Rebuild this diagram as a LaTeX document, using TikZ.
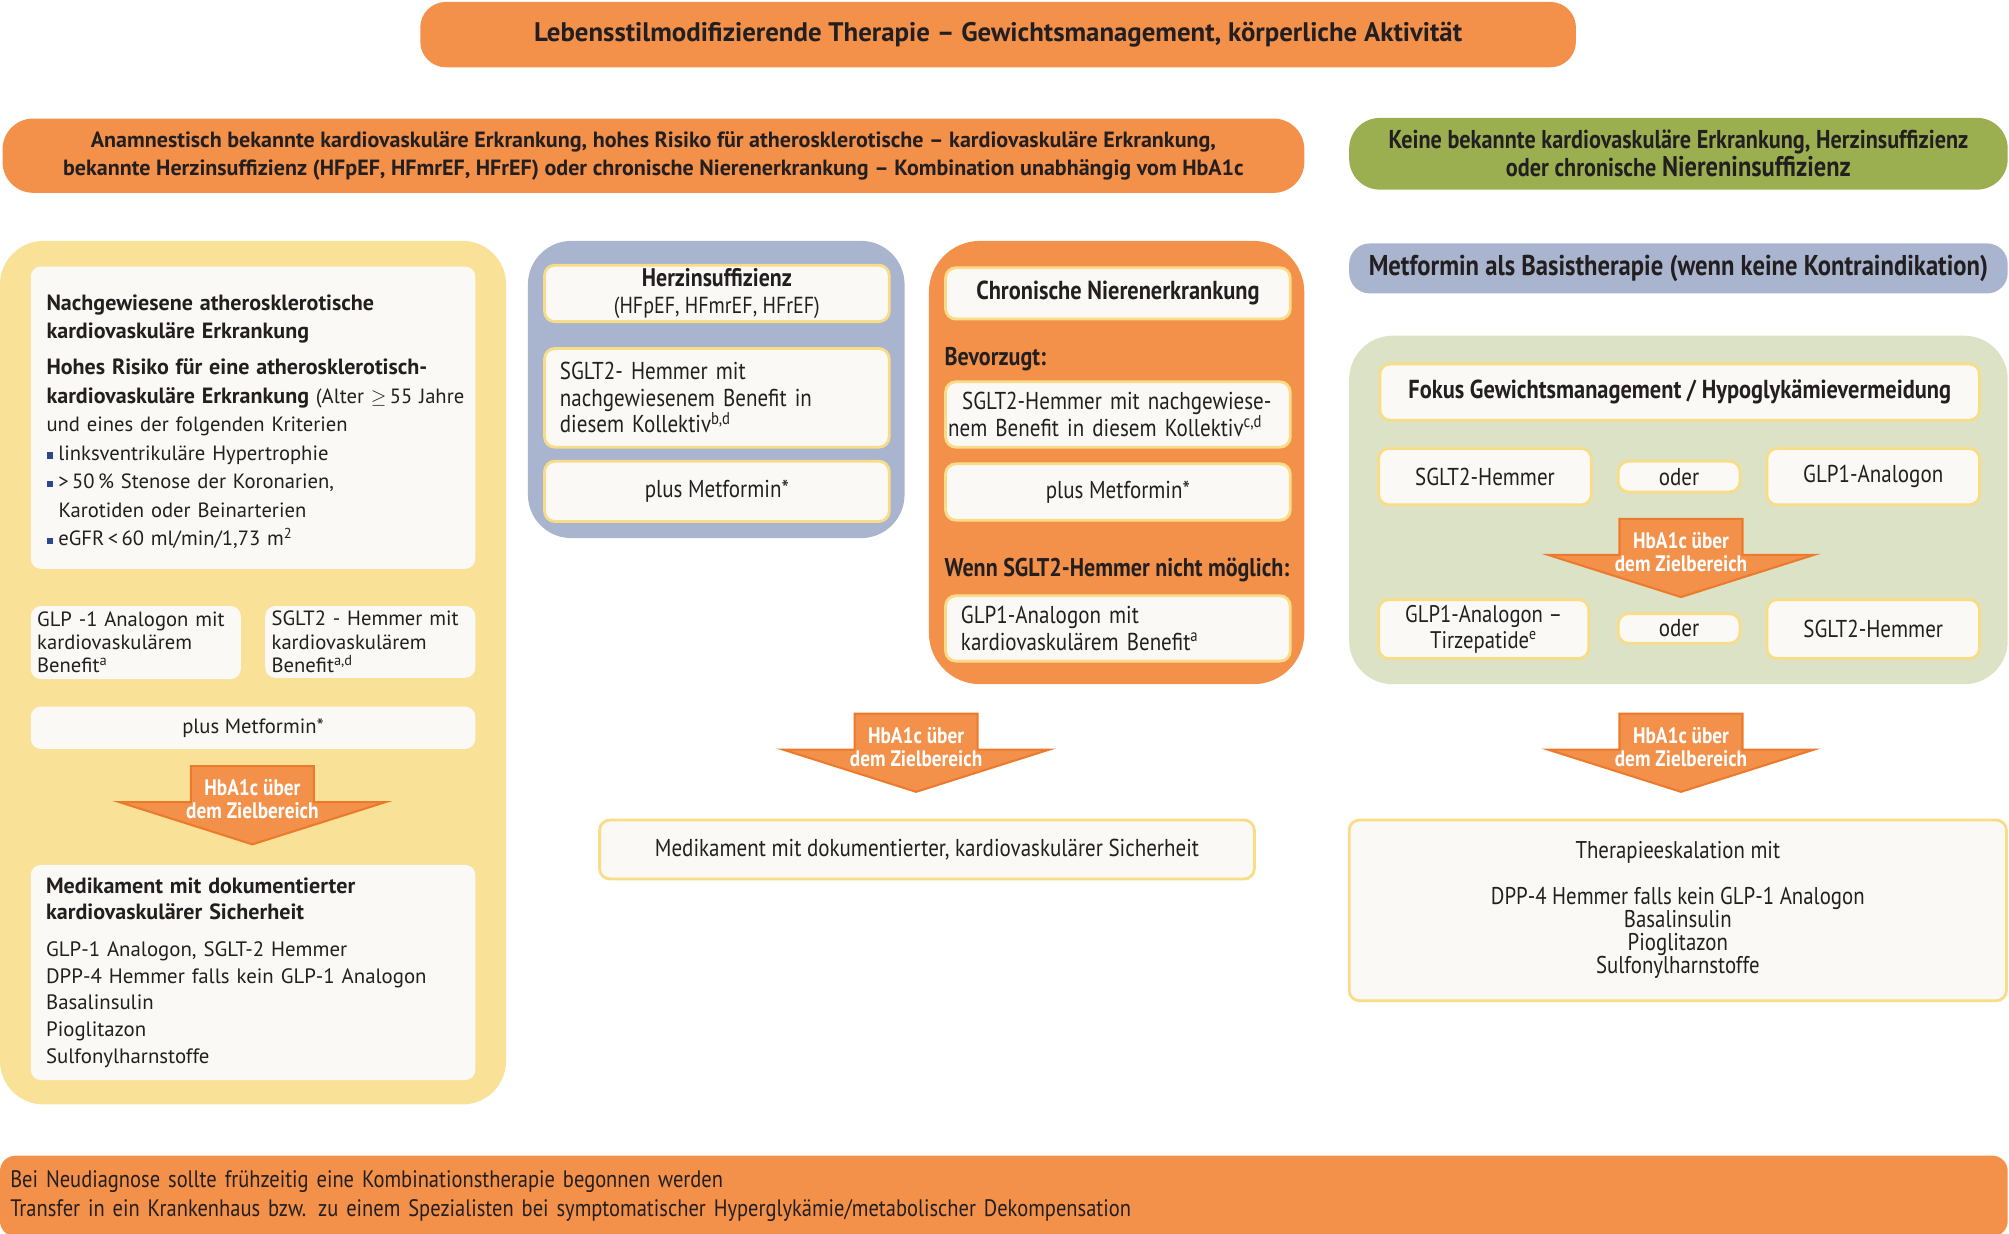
\documentclass[tikz,border=0pt]{standalone}
\usepackage{fontspec}
\setmainfont{PT Sans}
\newfontfamily\engfont[FakeStretch=0.86]{PT Sans}
\usetikzlibrary{positioning}

\definecolor{orng}{HTML}{F3904A}
\definecolor{orngrand}{HTML}{EC7A2C}
\definecolor{gelb}{HTML}{F9E198}
\definecolor{gelbrand}{HTML}{F8DC88}
\definecolor{blaugrau}{HTML}{A9B5CE}
\definecolor{gruen}{HTML}{9BAF51}
\definecolor{hellgruen}{HTML}{DCE2C5}
\definecolor{weiss}{HTML}{FAF9F5}
\definecolor{dunkel}{HTML}{231F20}
\definecolor{punkt}{HTML}{2B4A8B}

\newlength\pxu
\setlength\pxu{0.64pt}
\newcommand\fsz[2]{\fontsize{#1}{#2}\selectfont}
\newcommand\bul{\textcolor{punkt}{\rule[0.6pt]{3.4pt}{3.4pt}}\hspace{2.5pt}}
\newcommand\fett[1]{{\bfseries\fsz{11}{14.2}#1}}

% HbA1c-Pfeil: name, x-Mitte, y-Oberkante
\newcommand\hbpfeil[3]{%
	\draw[pfeil] (#2-48,#3) -- (#2+48,#3) -- (#2+48,#3+28) -- (#2+104,#3+28)
		-- (#2,#3+61) -- (#2-104,#3+28) -- (#2-48,#3+28) -- cycle;
	\node[pfeiltext] (#1) at (#2,#3+26) {HbA1c über\\dem Zielbereich};
}

\begin{document}
\begin{tikzpicture}[x=0.64pt, y=-0.64pt,
	band/.style={rectangle, rounded corners=24\pxu, fill=orng, text=dunkel, align=center, inner sep=0pt},
	panel/.style={rectangle, rounded corners=34\pxu, inner sep=0pt},
	lbox/.style={rectangle, rounded corners=8\pxu, fill=weiss, text=dunkel, inner sep=0pt, font=\fsz{10.3}{11.6}},
	wbox/.style={rectangle, rounded corners=8\pxu, fill=weiss, draw=gelbrand, line width=2.2\pxu, text=dunkel, inner sep=0pt, align=center, font={\fsz{12.2}{13.2}\engfont}},
	head/.style={text=dunkel, anchor=west, inner sep=0pt, font={\fsz{12.8}{14}\engfont\bfseries}},
	pfeil/.style={fill=orng, draw=orngrand, line width=1.6\pxu, line join=miter},
	pfeiltext/.style={text=white, align=center, inner sep=0pt, font={\fsz{11.2}{11.5}\engfont\bfseries}}
	]

	\useasboundingbox (0,0) rectangle (1568,963);

	% Kopfzeilen
	\node (lebensstil) [band, rounded corners=20\pxu, minimum width=902\pxu, minimum height=51\pxu, font=\bfseries\fsz{13.4}{15}] at (779,27)
		{Lebensstilmodifizierende Therapie – Gewichtsmanagement, körperliche Aktivität};

	\node (anamnese) [band, minimum width=1016\pxu, minimum height=58\pxu, font=\bfseries\fsz{11}{14}] at (510,121.5)
		{Anamnestisch bekannte kardiovaskuläre Erkrankung, hohes Risiko für atherosklerotische – kardiovaskuläre Erkrankung,\\
		bekannte Herzinsuffizienz (HFpEF, HFmrEF, HFrEF) oder chronische Nierenerkrankung – Kombination unabhängig vom HbA1c};

	\node (keine) [band, fill=gruen, minimum width=514\pxu, minimum height=56\pxu, font={\fsz{12.9}{14}\engfont\bfseries}] at (1310,120)
		{Keine bekannte kardiovaskuläre Erkrankung, Herzinsuffizienz\\
		oder chronische {\fsz{14.2}{14}Niereninsuffizienz}};

	\node (basis) [band, fill=blaugrau, rounded corners=16\pxu, minimum width=514\pxu, minimum height=39\pxu, font={\fsz{14.3}{15}\engfont\bfseries}] at (1310,209.5)
		{Metformin als Basistherapie (wenn keine Kontraindikation)};

	% linke Spalte
	\node (links) [panel, fill=gelb, minimum width=395\pxu, minimum height=674\pxu] at (197.5,525) {};

	\node (kriterienbox) [lbox, minimum width=347\pxu, minimum height=236\pxu] at (197.5,326) {};
	\node (kriterien) [text=dunkel, inner sep=0pt, anchor=west, text width=335\pxu, align=left, font=\fsz{10.3}{14.2}] at (36,329)
		{\fett{Nachgewiesene atherosklerotische}\\
		\fett{kardiovaskuläre Erkrankung}\\[4pt]
		\fett{Hohes Risiko für eine atherosklerotisch-}\\
		\fett{kardiovaskuläre Erkrankung} (Alter $\geq$\,55 Jahre\\
		und eines der folgenden Kriterien\\
		\bul linksventrikuläre Hypertrophie\\
		\bul >\,50\,\% Stenose der Koronarien,\\
		\hspace*{6pt}Karotiden oder Beinarterien\\
		\bul eGFR\,<\,60 ml/min/1,73 m\textsuperscript{2}};

	\node (glpl) [lbox, text width=154\pxu, inner xsep=5\pxu, minimum height=57\pxu, align=left] at (106,501.5)
		{GLP -1 Analogon mit\\kardiovaskulärem\\Benefit\textsuperscript{a}};
	\node (sgltl) [lbox, text width=154\pxu, inner xsep=5\pxu, minimum height=56\pxu, align=left] at (289,501)
		{SGLT2 - Hemmer mit\\kardiovaskulärem\\Benefit\textsuperscript{a,d}};

	\node (metl) [lbox, minimum width=347\pxu, minimum height=33\pxu] at (197.5,568) {plus Metformin*};

	\hbpfeil{pfeill}{197}{598}

	\node (sicherl) [lbox, text width=323\pxu, inner xsep=12\pxu, minimum height=168\pxu, align=left, font=\fsz{10.4}{13.3}] at (197.5,759)
		{{\bfseries\fsz{11}{13.3}Medikament mit dokumentierter}\\
		{\bfseries\fsz{11}{13.3}kardiovaskulärer Sicherheit}\\[5pt]
		GLP-1 Analogon, SGLT-2 Hemmer\\
		DPP-4 Hemmer falls kein GLP-1 Analogon\\
		Basalinsulin\\
		Pioglitazon\\
		Sulfonylharnstoffe};

	% Herzinsuffizienz
	\node (herzpanel) [panel, fill=blaugrau, minimum width=294\pxu, minimum height=232\pxu] at (559,304) {};
	\node (herz) [wbox, minimum width=269\pxu, minimum height=44\pxu, font={\fsz{11.6}{12.8}\engfont}] at (559.5,229)
		{{\bfseries\fsz{12.7}{12.8}Herzinsuffizienz}\\[1pt](HFpEF, HFmrEF, HFrEF)};
	\node (sgltherz) [wbox, text width=245\pxu, inner xsep=12\pxu, minimum height=77\pxu, align=left] at (559.5,310.5)
		{SGLT2- Hemmer mit\\nachgewiesenem Benefit in\\diesem Kollektiv\textsuperscript{b,d}};
	\node (metherz) [wbox, minimum width=269\pxu, minimum height=47\pxu] at (559.5,383.5) {plus Metformin*};

	% Nierenerkrankung
	\node (nierepanel) [panel, rounded corners=40\pxu, fill=orng, minimum width=293\pxu, minimum height=346\pxu] at (871.5,361) {};
	\node (niere) [wbox, minimum width=269\pxu, minimum height=40\pxu, font={\fsz{13}{14}\engfont\bfseries}] at (872.5,229)
		{Chronische Nierenerkrankung};
	\node (bevorzugt) [head] at (737,280) {Bevorzugt:};
	\node (sgltniere) [wbox, text width=265\pxu, inner xsep=2\pxu, minimum height=51\pxu, align=left] at (872.5,323.5)
		{\leftskip=11\pxu
		SGLT2-Hemmer mit nachgewiese-\\nem Benefit in diesem Kollektiv\textsuperscript{c,d}};
	\node (metniere) [wbox, minimum width=269\pxu, minimum height=44\pxu] at (872.5,384) {plus Metformin*};
	\node (wenn) [head] at (737,445) {Wenn SGLT2-Hemmer nicht möglich:};
	\node (glpniere) [wbox, text width=245\pxu, inner xsep=12\pxu, minimum height=51\pxu, align=left] at (872.5,490.5)
		{GLP1-Analogon mit\\kardiovaskulärem Benefit\textsuperscript{a}};

	\hbpfeil{pfeilm}{715}{557}

	\node (sicherm) [wbox, minimum width=511\pxu, minimum height=46\pxu] at (723.5,663)
		{Medikament mit dokumentierter, kardiovaskulärer Sicherheit};

	% ohne bekannte Erkrankung
	\node (gruenpanel) [panel, fill=hellgruen, minimum width=514\pxu, minimum height=272\pxu] at (1310,398) {};
	\node (fokus) [wbox, minimum width=468\pxu, minimum height=44\pxu, font={\fsz{13}{14}\engfont\bfseries}] at (1311,306)
		{Fokus Gewichtsmanagement / Hypoglykämievermeidung};
	\node (sgltg) [wbox, minimum width=166\pxu, minimum height=44\pxu] at (1159,372) {SGLT2-Hemmer};
	\node (oder1) [wbox, minimum width=95\pxu, minimum height=24\pxu] at (1310.5,372) {oder};
	\node (glpg) [wbox, minimum width=166\pxu, minimum height=44\pxu] at (1462,372) {GLP1-Analogon};

	\hbpfeil{pfeilg}{1312}{405}

	\node (tirz) [wbox, minimum width=164\pxu, minimum height=46\pxu, font={\fsz{12}{12.9}\engfont}] at (1158,491)
		{GLP1-Analogon –\\Tirzepatide\textsuperscript{e}};
	\node (oder2) [wbox, minimum width=95\pxu, minimum height=23\pxu] at (1310.5,490.5) {oder};
	\node (sgltg2) [wbox, minimum width=166\pxu, minimum height=46\pxu] at (1462,491) {SGLT2-Hemmer};

	\hbpfeil{pfeilr}{1312}{557}

	\node (eskalation) [wbox, minimum width=513\pxu, minimum height=141\pxu, font={\fsz{12.1}{11.6}\engfont}] at (1309.5,710.5)
		{Therapieeskalation mit\\[11pt]
		DPP-4 Hemmer falls kein GLP-1 Analogon\\
		Basalinsulin\\
		Pioglitazon\\
		Sulfonylharnstoffe};

	% Fusszeile
	\node (hinweis) [band, rounded corners=12\pxu, minimum width=1567\pxu, minimum height=63\pxu, text width=1551\pxu, inner xsep=8\pxu, align=left, font={\fsz{11.9}{14}\engfont}] at (783.5,933.5)
		{Bei Neudiagnose sollte frühzeitig eine Kombinationstherapie begonnen werden\\
		Transfer in ein Krankenhaus bzw. zu einem Spezialisten bei symptomatischer Hyperglykämie/metabolischer Dekompensation};

\end{tikzpicture}
\end{document}
